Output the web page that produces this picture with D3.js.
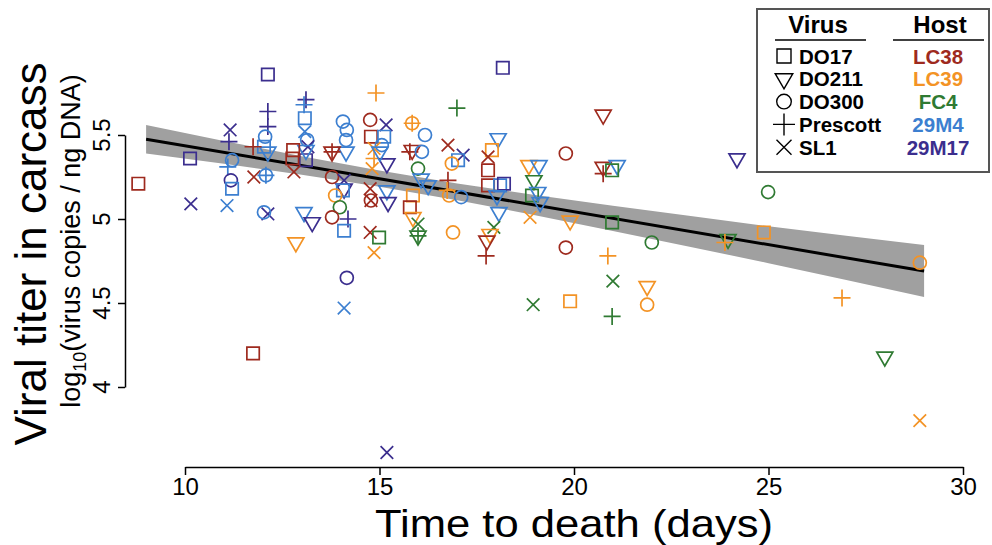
<!DOCTYPE html>
<html>
<head>
<meta charset="utf-8">
<script src="https://cdn.jsdelivr.net/npm/d3@7"></script>
<style>
  body { margin: 0; background: #fff; }
  svg { display: block; font-family: "Liberation Sans", Arial, Helvetica, sans-serif; }
</style>
</head>
<body>
<svg id="chart" width="992" height="545"></svg>
<script>
// categories
const viruses = ["DO17", "DO211", "DO300", "Prescott", "SL1"];
const hosts = ["LC38", "LC39", "FC4", "29M4", "29M17"];

// tick labels
const xTicks = [10, 15, 20, 25, 30];
const yTicks = [4, 4.5, 5, 5.5];

// one entry per insect: time to death, titer, virus, host
const days = [
  8.8, 10.13, 10.15, 11.16, 11.13, 11.21, 11.10, 11.18, 11.21, 11.08,
  12.13, 12.13, 12.13, 12.06, 12.03, 12.13, 11.75, 11.77, 12.08, 12.08,
  12.13, 12.03, 13.11, 13.06, 13.08, 13.08, 13.14, 13.16, 13.11, 13.11,
  12.78, 12.76, 12.80, 13.06, 13.27, 12.85, 14.06, 14.16, 14.14, 14.14,
  13.78, 13.78, 13.78, 14.09, 14.09, 14.06, 13.86, 13.98, 13.78, 14.19,
  14.09, 14.16, 14.09, 14.91, 14.76, 15.17, 14.78, 15.12, 15.06, 14.86,
  14.86, 14.81, 15.19, 15.01, 14.76, 14.78, 14.78, 15.19, 15.22, 14.76,
  14.99, 14.86, 15.19, 15.84, 15.84, 15.84, 15.78, 16.17, 16.09, 15.99,
  16.07, 16.25, 15.86, 15.78, 15.86, 15.99, 15.99, 15.99, 16.99, 16.76,
  17.15, 17.02, 16.86, 16.76, 16.74, 16.79, 17.10, 16.89, 18.17, 18.05,
  17.89, 17.79, 17.79, 17.79, 18.10, 18.20, 18.02, 18.07, 17.94, 17.84,
  17.76, 17.74, 18.84, 19.10, 18.97, 18.92, 19.07, 19.13, 18.87, 18.95,
  19.79, 19.90, 19.79, 19.90, 20.75, 20.75, 20.75, 21.11, 20.98, 20.98,
  20.87, 21.00, 20.98, 22.00, 21.88, 21.88, 24.19, 23.96, 23.88, 24.99,
  24.88, 26.89, 27.99, 28.89, 28.89, 11.75
];
const titers = [
  5.21, 5.36, 5.09, 5.53, 5.46, 5.35, 5.31, 5.23, 5.18, 5.08,
  5.86, 5.64, 5.55, 5.49, 5.43, 5.40, 5.43, 5.25, 5.26, 5.26,
  5.03, 5.04, 5.71, 5.68, 5.60, 5.52, 5.47, 5.43, 5.35, 5.41,
  5.41, 5.36, 5.28, 5.04, 4.98, 4.86, 5.58, 5.53, 5.47, 5.40,
  5.40, 5.40, 5.25, 5.23, 5.18, 5.17, 5.14, 5.07, 5.01, 5.00,
  4.93, 4.65, 4.47, 5.75, 5.59, 5.56, 5.49, 5.49, 5.44, 5.42,
  5.36, 5.30, 5.33, 5.40, 5.18, 5.11, 5.11, 5.17, 5.10, 4.92,
  4.89, 4.80, 3.61, 5.57, 5.57, 5.41, 5.40, 5.50, 5.40, 5.30,
  5.24, 5.20, 5.14, 5.07, 5.01, 4.97, 4.90, 4.90, 5.66, 5.44,
  5.38, 5.35, 5.33, 5.23, 5.17, 5.14, 5.13, 4.92, 5.90, 5.48,
  5.41, 5.37, 5.29, 5.20, 5.20, 5.21, 5.14, 5.04, 4.95, 4.91,
  4.87, 4.78, 5.32, 5.32, 5.23, 5.14, 5.16, 5.10, 5.01, 4.49,
  5.39, 4.99, 4.83, 4.51, 5.62, 5.31, 5.27, 5.32, 5.29, 4.98,
  4.78, 4.63, 4.42, 4.86, 4.60, 4.49, 5.36, 4.88, 4.86, 5.16,
  4.92, 4.53, 4.18, 4.74, 3.80, 4.20
];
const virusOf = [
  "DO17", "DO17", "SL1", "SL1", "Prescott", "DO300", "Prescott", "DO300", "DO17", "SL1",
  "DO17", "Prescott", "Prescott", "DO300", "DO17", "DO211", "Prescott", "SL1", "DO300", "Prescott",
  "SL1", "DO300", "Prescott", "Prescott", "DO17", "SL1", "DO300", "SL1", "DO17", "DO211",
  "DO17", "DO17", "SL1", "DO211", "DO211", "DO211", "DO300", "DO300", "DO300", "DO211",
  "Prescott", "DO211", "DO300", "SL1", "DO211", "DO17", "DO300", "DO300", "DO300", "Prescott",
  "DO17", "DO300", "SL1", "Prescott", "DO300", "SL1", "DO17", "DO17", "DO300", "SL1",
  "Prescott", "SL1", "DO211", "DO211", "SL1", "DO300", "SL1", "DO211", "DO211", "SL1",
  "DO17", "SL1", "SL1", "DO300", "Prescott", "DO211", "Prescott", "DO300", "DO300", "DO300",
  "DO211", "DO211", "DO17", "DO17", "DO211", "SL1", "DO211", "Prescott", "Prescott", "SL1",
  "SL1", "DO17", "DO300", "Prescott", "Prescott", "DO300", "DO300", "DO300", "DO17", "DO211",
  "DO17", "SL1", "DO17", "DO17", "DO17", "DO17", "DO211", "DO211", "SL1", "DO211",
  "DO211", "Prescott", "DO211", "DO211", "DO211", "DO17", "DO211", "DO211", "SL1", "SL1",
  "DO300", "DO211", "DO300", "DO17", "DO211", "DO211", "Prescott", "DO211", "DO17", "DO17",
  "Prescott", "SL1", "Prescott", "DO300", "DO211", "DO300", "DO211", "DO211", "Prescott", "DO300",
  "DO17", "Prescott", "DO211", "DO300", "SL1", "DO17"
];
const hostOf = [
  "LC38", "29M17", "29M17", "29M17", "29M17", "29M4", "29M4", "29M17", "29M4", "29M4",
  "29M17", "29M17", "29M17", "29M4", "29M4", "29M4", "LC38", "LC38", "29M4", "29M4",
  "29M17", "29M4", "29M17", "29M4", "29M4", "29M4", "29M4", "29M17", "29M17", "29M4",
  "LC38", "LC38", "LC38", "29M4", "29M17", "LC39", "29M4", "29M4", "29M4", "29M4",
  "LC38", "LC38", "LC38", "29M17", "29M17", "29M4", "LC39", "FC4", "LC38", "29M17",
  "29M4", "29M17", "29M4", "LC39", "LC38", "29M17", "LC38", "29M4", "29M4", "LC39",
  "LC39", "LC39", "29M17", "29M4", "LC38", "LC38", "LC38", "29M4", "29M17", "LC38",
  "FC4", "LC39", "29M17", "LC39", "LC39", "LC38", "LC38", "29M4", "29M4", "FC4",
  "29M4", "29M4", "LC39", "LC38", "LC39", "FC4", "FC4", "FC4", "FC4", "LC38",
  "29M17", "29M4", "LC39", "LC38", "LC39", "LC39", "29M4", "LC39", "29M17", "29M4",
  "LC39", "LC38", "LC38", "LC38", "29M4", "29M17", "29M4", "29M4", "FC4", "LC39",
  "LC38", "LC38", "LC39", "29M4", "FC4", "FC4", "29M4", "29M4", "LC39", "FC4",
  "LC38", "LC39", "LC38", "LC39", "LC38", "LC38", "LC38", "29M4", "FC4", "FC4",
  "LC39", "FC4", "FC4", "FC4", "LC39", "LC39", "29M17", "FC4", "LC39", "FC4",
  "LC39", "LC39", "FC4", "LC39", "LC39", "LC38"
];

// regression line (end points) and its confidence band
const lineDays = [9, 29];
const lineTiters = [5.475, 4.69];
const bandDays = [9, 11, 13, 15, 17, 19, 21, 23, 25, 27, 29];
const bandLow = [5.390, 5.329, 5.263, 5.192, 5.111, 5.023, 4.929, 4.834, 4.737, 4.637, 4.535];
const bandHigh = [5.560, 5.465, 5.373, 5.288, 5.211, 5.143, 5.079, 5.018, 4.957, 4.901, 4.845];

const svg = d3.select("#chart");

const x = d3.scaleLinear().domain([10, 30]).range([185, 963]);
const y = d3.scaleLinear().domain([4, 5.5]).range([387, 135]);

const color = d3.scaleOrdinal()
  .domain(hosts)
  .range(["#9e2a1e", "#f39325", "#2f7a32", "#3c7fd0", "#3b2e8e"]);

// R-like open symbols, size = half width in px
const square = { draw: (c, r) => { c.rect(-r, -r, 2 * r, 2 * r); } };
const triDown = {
  draw: (c, r) => {
    const h = r * Math.sqrt(3);
    c.moveTo(-r, -h / 3); c.lineTo(r, -h / 3); c.lineTo(0, (2 * h) / 3); c.closePath();
  }
};
const circle = { draw: (c, r) => { c.moveTo(r, 0); c.arc(0, 0, r, 0, 2 * Math.PI); } };
const plus = { draw: (c, r) => { c.moveTo(-r, 0); c.lineTo(r, 0); c.moveTo(0, -r); c.lineTo(0, r); } };
const times = { draw: (c, r) => { c.moveTo(-r, -r); c.lineTo(r, r); c.moveTo(-r, r); c.lineTo(r, -r); } };

const shape = d3.scaleOrdinal().domain(viruses).range([square, triDown, circle, plus, times]);
const radius = d3.scaleOrdinal().domain(viruses).range([6.2, 8, 6.5, 8.5, 6.3]);

// band + fitted line
const band = d3.area()
  .x((d) => x(d))
  .y0((d, i) => y(bandLow[i]))
  .y1((d, i) => y(bandHigh[i]));

svg.append("path")
  .attr("d", band(bandDays))
  .attr("fill", "#a0a0a0");

svg.append("path")
  .attr("d", d3.line().x((d) => x(d)).y((d, i) => y(lineTiters[i]))(lineDays))
  .attr("stroke", "#000")
  .attr("stroke-width", 3)
  .attr("fill", "none");

// points
svg.append("g")
  .selectAll("path")
  .data(days.map((d, i) => ({ day: d, titer: titers[i], virus: virusOf[i], host: hostOf[i] })))
  .enter()
  .append("path")
  .attr("transform", (d) => `translate(${x(d.day)},${y(d.titer)})`)
  .attr("d", (d) => d3.symbol().type(shape(d.virus)).size(radius(d.virus))())
  .attr("fill", "none")
  .attr("stroke", (d) => color(d.host))
  .attr("stroke-width", 1.7);

// axes
const xAxis = svg.append("g")
  .attr("transform", "translate(0,467)")
  .call(d3.axisBottom(x).tickValues(xTicks).tickSize(8).tickSizeOuter(0));
xAxis.selectAll("text")
  .attr("y", 28)
  .attr("dy", "0")
  .attr("font-size", "24px")
  .attr("font-family", "Liberation Sans, Arial, sans-serif")
  .attr("fill", "#000");

svg.append("g")
  .attr("transform", "translate(125,0)")
  .call(d3.axisLeft(y).tickValues(yTicks).tickSize(7).tickSizeOuter(0).tickFormat(""));

svg.selectAll(".domain, .tick line").attr("stroke", "#000").attr("stroke-width", 1.5);

// y tick labels, turned like R's las = 0
svg.append("g")
  .selectAll("text")
  .data(yTicks)
  .enter()
  .append("text")
  .attr("transform", (d) => `translate(110,${y(d)}) rotate(-90)`)
  .attr("text-anchor", "middle")
  .attr("font-size", "24px")
  .attr("fill", "#000")
  .text((d) => d);

// axis titles
svg.append("text")
  .attr("x", 574)
  .attr("y", 536.5)
  .attr("text-anchor", "middle")
  .attr("font-size", "39.5px")
  .attr("textLength", 398)
  .attr("lengthAdjust", "spacingAndGlyphs")
  .text("Time to death (days)");

svg.append("text")
  .attr("transform", "translate(46,254) rotate(-90)")
  .attr("text-anchor", "middle")
  .attr("font-size", "44px")
  .text("Viral titer in carcass");

const sub = svg.append("text")
  .attr("transform", "translate(80,241) rotate(-90)")
  .attr("text-anchor", "middle")
  .attr("font-size", "27px");
sub.append("tspan").text("log");
sub.append("tspan").attr("font-size", "18px").attr("dy", 6).text("10");
sub.append("tspan").attr("dy", -6).text("(virus copies / ng DNA)");

// legend
const legend = svg.append("g");
legend.append("rect")
  .attr("x", 757).attr("y", 9).attr("width", 232).attr("height", 163)
  .attr("fill", "#fff").attr("stroke", "#555").attr("stroke-width", 2);

legend.append("text").attr("x", 818).attr("y", 33).attr("text-anchor", "middle")
  .attr("font-size", "24px").attr("font-weight", "bold").text("Virus");
legend.append("text").attr("x", 940).attr("y", 33).attr("text-anchor", "middle")
  .attr("font-size", "24px").attr("font-weight", "bold").text("Host");
legend.append("line").attr("x1", 775).attr("x2", 866).attr("y1", 40).attr("y2", 40)
  .attr("stroke", "#000").attr("stroke-width", 1.5);
legend.append("line").attr("x1", 893).attr("x2", 984).attr("y1", 40).attr("y2", 40)
  .attr("stroke", "#000").attr("stroke-width", 1.5);

const rowY = (i) => 56 + i * 22.8;
const legendRadius = d3.scaleOrdinal().domain(viruses).range([7, 8.8, 7.3, 11, 7.5]);

legend.selectAll(".sym")
  .data(viruses)
  .enter()
  .append("path")
  .attr("transform", (d, i) => `translate(784,${rowY(i)})`)
  .attr("d", (d) => d3.symbol().type(shape(d)).size(legendRadius(d))())
  .attr("fill", "none")
  .attr("stroke", "#000")
  .attr("stroke-width", 1.4);

legend.selectAll(".vname")
  .data(viruses)
  .enter()
  .append("text")
  .attr("x", 799)
  .attr("y", (d, i) => rowY(i) + 7.5)
  .attr("font-size", "20.5px")
  .attr("font-weight", "bold")
  .text((d) => d);

legend.selectAll(".hname")
  .data(hosts)
  .enter()
  .append("text")
  .attr("x", 938)
  .attr("y", (d, i) => rowY(i) + 7.5)
  .attr("text-anchor", "middle")
  .attr("font-size", "20.5px")
  .attr("font-weight", "bold")
  .attr("fill", (d) => color(d))
  .text((d) => d);
</script>
</body>
</html>
